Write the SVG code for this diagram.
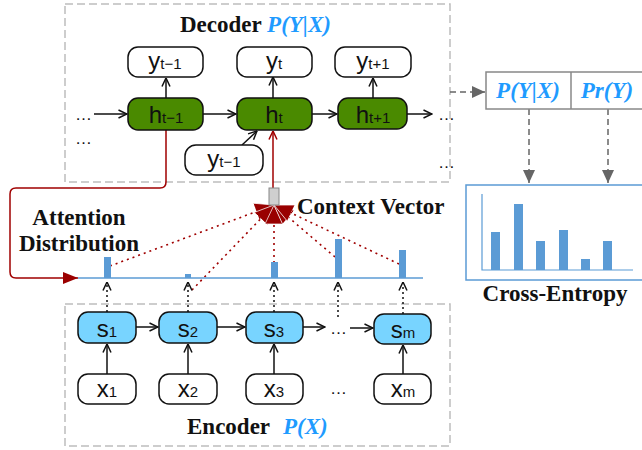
<svg xmlns="http://www.w3.org/2000/svg" width="642" height="450" viewBox="0 0 642 450">
<defs>
<style>
.frame{fill:none;stroke:#bdbdbd;stroke-width:1.5;stroke-dasharray:8 4}
.wbox{fill:#fff;stroke:#111;stroke-width:1.5}
.gbox{fill:#4a8a00;stroke:#111;stroke-width:1.5}
.sbox{fill:#78d4ff;stroke:#111;stroke-width:1.5}
.lbl{font-family:"Liberation Sans",Arial,sans-serif;font-size:24px;fill:#111;text-anchor:middle}
.sub{font-size:15px}
.title{font-family:"Liberation Serif","Times New Roman",serif;font-weight:bold;font-size:23px;fill:#111}
.blue{fill:#1f9bff;font-style:italic}
.dots{font-family:"Liberation Sans",Arial,sans-serif;font-size:17px;fill:#111}
.arr{fill:none;stroke:#111;stroke-width:1.5;marker-end:url(#open)}
.darr{fill:none;stroke:#111;stroke-width:1.5;stroke-dasharray:2 3;marker-end:url(#open)}
.red{fill:none;stroke:#a00000;stroke-width:1.5}
.rdot{fill:none;stroke:#a00000;stroke-width:1.6;stroke-dasharray:2 4;marker-end:url(#fan)}
.gdash{fill:none;stroke:#666;stroke-width:1.5;stroke-dasharray:6 4;marker-end:url(#gray)}
.bar{fill:#5b9bd5}
</style>
<marker id="open" markerUnits="userSpaceOnUse" viewBox="0 0 10 10" refX="9.5" refY="5" markerWidth="10" markerHeight="10" orient="auto">
<path d="M1,1 L9.5,5 L1,9" fill="none" stroke="#111" stroke-width="1.5"/>
</marker>
<marker id="openred" markerUnits="userSpaceOnUse" viewBox="0 0 10 10" refX="9.5" refY="5" markerWidth="10" markerHeight="10" orient="auto">
<path d="M1,1 L9.5,5 L1,9" fill="none" stroke="#a00000" stroke-width="1.5"/>
</marker>
<marker id="redfill" markerUnits="userSpaceOnUse" viewBox="0 0 16 12" refX="15" refY="6" markerWidth="16" markerHeight="12" orient="auto">
<path d="M0,0 L15,6 L0,12 z" fill="#9b0000"/>
</marker>
<marker id="fan" markerUnits="userSpaceOnUse" viewBox="0 0 20 18" refX="19" refY="9" markerWidth="20" markerHeight="18" orient="auto">
<path d="M0,0 L19,9 L0,18 z" fill="#990000" stroke="#fff" stroke-width="0.7"/>
</marker>
<marker id="gray" markerUnits="userSpaceOnUse" viewBox="0 0 14 12" refX="13" refY="6" markerWidth="14" markerHeight="12" orient="auto">
<path d="M0,0 L13,6 L0,12 z" fill="#666"/>
</marker>
</defs>
<rect width="642" height="450" fill="#fff"/>

<g id="decoder-frame">
<rect class="frame" x="65" y="4" width="385" height="178"/>
<text class="title" x="180" y="32">Decoder <tspan class="blue">P(Y|X)</tspan></text>
</g>
<g id="encoder-frame">
<rect class="frame" x="65" y="304" width="385" height="142"/>
<text class="title" x="187" y="434">Encoder <tspan class="blue" x="283">P(X)</tspan></text>
</g>

<g id="connectors">
<path class="arr" d="M94,114 H127"/>
<path class="arr" d="M203,114 H236"/>
<path class="arr" d="M312,114 H337"/>
<path class="arr" d="M407,114 H432"/>
<path class="arr" d="M166,98 V78"/>
<path class="arr" d="M273,98 V77"/>
<path class="arr" d="M373,98 V78"/>
<path class="arr" d="M242,145 L257,131"/>
<path class="red" d="M166,130 V182 Q166,188 160,188 H16 Q10,188 10,194 V272 Q10,278 16,278 H78" marker-end="url(#redfill)"/>
<path class="red" d="M273,188 V131" marker-end="url(#openred)"/>
<path class="rdot" d="M110,266 L274,205"/>
<path class="rdot" d="M192,290 L274,205"/>
<path class="rdot" d="M274,263 L274,205"/>
<path class="rdot" d="M335,257 L274,205"/>
<path class="rdot" d="M399,264 L274,205"/>
<path class="darr" d="M107,312 V282"/>
<path class="darr" d="M188,312 V282"/>
<path class="darr" d="M274,312 V282"/>
<path class="darr" d="M338,317 V282"/>
<path class="darr" d="M403,314 V282"/>
<path class="arr" d="M136,327 H158"/>
<path class="arr" d="M217,327 H245"/>
<path class="arr" d="M303,327 H325"/>
<path class="arr" d="M350,328 H373"/>
<path class="arr" d="M107,374 V344"/>
<path class="arr" d="M188,374 V344"/>
<path class="arr" d="M274,374 V344"/>
<path class="arr" d="M403,374 V345"/>
<path class="gdash" d="M450,92 H485"/>
<path class="gdash" d="M529,109 V183"/>
<path class="gdash" d="M608,109 V183"/>
</g>

<g id="dots">
<text class="dots" x="75" y="120">…</text>
<text class="dots" x="75" y="144">…</text>
<text class="dots" x="438" y="120">…</text>
<text class="dots" x="438" y="168">…</text>
<text class="dots" x="330" y="334">…</text>
<text class="dots" x="330" y="394">…</text>
</g>

<g id="y-prev-top"><rect class="wbox" x="128" y="47" width="75" height="30" rx="10"/><text class="lbl" x="165" y="69">y<tspan class="sub">t−1</tspan></text></g>
<g id="y-t"><rect class="wbox" x="237" y="47" width="75" height="30" rx="10"/><text class="lbl" x="274" y="69">y<tspan class="sub">t</tspan></text></g>
<g id="y-next"><rect class="wbox" x="335" y="47" width="76" height="30" rx="10"/><text class="lbl" x="373" y="69">y<tspan class="sub">t+1</tspan></text></g>
<g id="h-prev"><rect class="gbox" x="128" y="98" width="75" height="32" rx="10"/><text class="lbl" x="166" y="123">h<tspan class="sub">t−1</tspan></text></g>
<g id="h-t"><rect class="gbox" x="237" y="98" width="75" height="32" rx="10"/><text class="lbl" x="274" y="123">h<tspan class="sub">t</tspan></text></g>
<g id="h-next"><rect class="gbox" x="338" y="98" width="69" height="31" rx="10"/><text class="lbl" x="373" y="123">h<tspan class="sub">t+1</tspan></text></g>
<g id="y-prev-in"><rect class="wbox" x="185" y="145" width="78" height="30" rx="11"/><text class="lbl" x="224" y="167">y<tspan class="sub">t−1</tspan></text></g>

<g id="context-vector">
<rect x="269" y="188" width="10" height="17" fill="#cfcfcf" stroke="#888" stroke-width="1"/>
<text class="title" x="297" y="214">Context Vector</text>
</g>

<g id="attention">
<text class="title" x="79" y="225" text-anchor="middle">Attention</text>
<text class="title" x="79" y="251" text-anchor="middle">Distribution</text>
<line x1="78" y1="278" x2="423" y2="278" stroke="#5b9bd5" stroke-width="1.5"/>
<rect class="bar" x="104" y="257" width="7" height="21"/>
<rect class="bar" x="185" y="274" width="6" height="4"/>
<rect class="bar" x="271" y="262" width="7" height="16"/>
<rect class="bar" x="335" y="239" width="7" height="39"/>
<rect class="bar" x="399" y="250" width="7" height="28"/>
</g>

<g id="s1"><rect class="sbox" x="78" y="312" width="58" height="31" rx="10"/><text class="lbl" x="107" y="337">s<tspan class="sub">1</tspan></text></g>
<g id="s2"><rect class="sbox" x="159" y="312" width="58" height="31" rx="10"/><text class="lbl" x="188" y="337">s<tspan class="sub">2</tspan></text></g>
<g id="s3"><rect class="sbox" x="246" y="312" width="57" height="31" rx="10"/><text class="lbl" x="274" y="337">s<tspan class="sub">3</tspan></text></g>
<g id="sm"><rect class="sbox" x="374" y="314" width="57" height="30" rx="10"/><text class="lbl" x="403" y="338">s<tspan class="sub">m</tspan></text></g>
<g id="x1"><rect class="wbox" x="78" y="374" width="58" height="30" rx="10"/><text class="lbl" x="107" y="397">x<tspan class="sub">1</tspan></text></g>
<g id="x2"><rect class="wbox" x="159" y="374" width="58" height="30" rx="10"/><text class="lbl" x="188" y="397">x<tspan class="sub">2</tspan></text></g>
<g id="x3"><rect class="wbox" x="246" y="374" width="57" height="30" rx="10"/><text class="lbl" x="274" y="397">x<tspan class="sub">3</tspan></text></g>
<g id="xm"><rect class="wbox" x="374" y="374" width="57" height="30" rx="10"/><text class="lbl" x="403" y="397">x<tspan class="sub">m</tspan></text></g>

<g id="prob-box">
<rect x="486" y="72" width="160" height="37" fill="#fff" stroke="#888" stroke-width="1.5"/>
<line x1="571" y1="72" x2="571" y2="109" stroke="#888" stroke-width="1.5"/>
<text class="title blue" x="528" y="98" text-anchor="middle">P(Y|X)</text>
<text class="title blue" x="607" y="98" text-anchor="middle">Pr(Y)</text>
</g>

<g id="cross-entropy">
<rect x="466" y="185" width="180" height="95" fill="#fff" stroke="#5b9bd5" stroke-width="1.5"/>
<path d="M482,194 V270 H633" fill="none" stroke="#5b9bd5" stroke-width="1.2"/>
<rect class="bar" x="491" y="232" width="9" height="38"/>
<rect class="bar" x="514" y="204" width="9" height="66"/>
<rect class="bar" x="536" y="241" width="9" height="29"/>
<rect class="bar" x="559" y="230" width="9" height="40"/>
<rect class="bar" x="581" y="259" width="9" height="11"/>
<rect class="bar" x="603" y="241" width="9" height="29"/>
<text class="title" x="555" y="301" text-anchor="middle">Cross-Entropy</text>
</g>
</svg>
